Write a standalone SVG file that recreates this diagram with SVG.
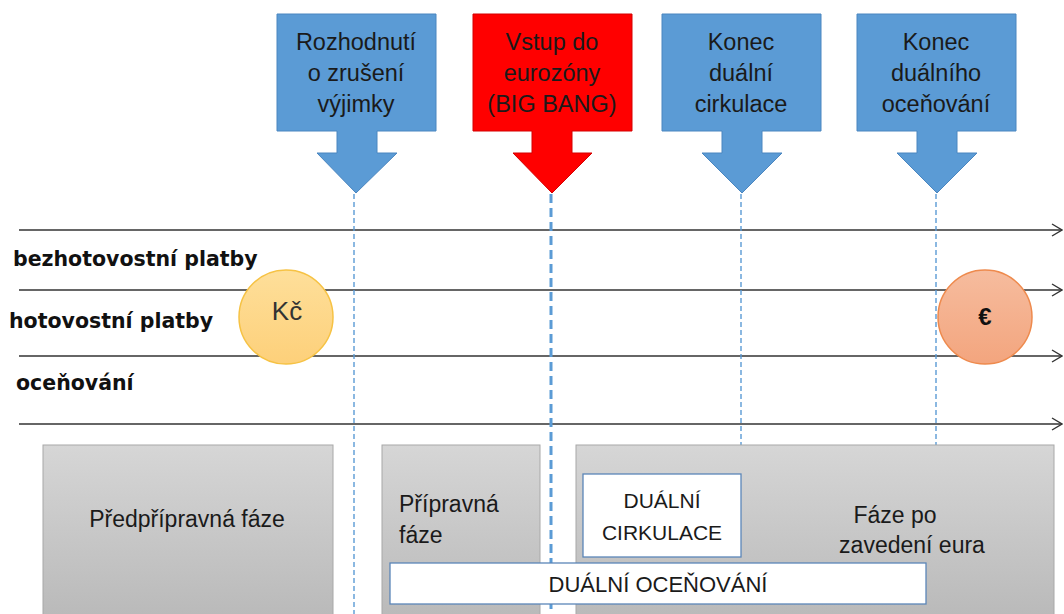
<svg xmlns="http://www.w3.org/2000/svg" width="1064" height="614" viewBox="0 0 1064 614">
<defs>
<linearGradient id="gray" x1="0" y1="0" x2="0" y2="1">
<stop offset="0" stop-color="#d6d6d6"/>
<stop offset="1" stop-color="#b9b9b9"/>
</linearGradient>
<linearGradient id="kc" x1="0" y1="0" x2="0" y2="1">
<stop offset="0" stop-color="#fedf9a"/>
<stop offset="1" stop-color="#fdd07a"/>
</linearGradient>
<linearGradient id="eu" x1="0" y1="0" x2="0" y2="1">
<stop offset="0" stop-color="#f6bc9e"/>
<stop offset="1" stop-color="#f3a57e"/>
</linearGradient>
<marker id="open" viewBox="0 0 12 14" refX="11" refY="7" markerWidth="12" markerHeight="14" markerUnits="userSpaceOnUse" orient="auto">
<path d="M1 1 L11 7 L1 13" fill="none" stroke="#333" stroke-width="1.4"/>
</marker>
<style>
text{font-family:"Liberation Sans",Arial,sans-serif;fill:#1a1a1a}
.call{font-size:23.5px;text-anchor:middle}
.lbl{font-family:"DejaVu Sans",Verdana,sans-serif;font-size:20.5px;font-weight:bold;fill:#111}
.ph{font-size:23px}
.ph21{font-size:21px;text-anchor:middle}
.blue{fill:#5b9bd5;stroke:#4a86c0;stroke-width:1}
.red{fill:#ff0000;stroke:#d40000;stroke-width:1}
.grayb{fill:url(#gray);stroke:#a8a8a8;stroke-width:1}
.wbox{fill:#fff;stroke:#5b86b8;stroke-width:1.3}
.hl{stroke:#333;stroke-width:1.4;fill:none;marker-end:url(#open)}
.dt{stroke:#5b9bd5;stroke-width:1.4;stroke-dasharray:5 3;fill:none}
.dT{stroke:#5b9bd5;stroke-width:3;stroke-dasharray:9 5;fill:none}
</style>
</defs>

<g id="connectors">
<line class="hl" x1="19" y1="230" x2="1062" y2="230"/>
<line class="hl" x1="19" y1="290" x2="1062" y2="290"/>
<line class="hl" x1="19" y1="356" x2="1062" y2="356"/>
<line class="hl" x1="19" y1="424" x2="1062" y2="424"/>
<line class="dt" x1="354" y1="194" x2="354" y2="614"/>
<line class="dT" x1="551" y1="194" x2="551" y2="614"/>
<line class="dt" x1="741" y1="194" x2="741" y2="445"/>
<line class="dt" x1="936" y1="194" x2="936" y2="445"/>
</g>

<g id="labels">
<text class="lbl" x="13" y="266">bezhotovostní platby</text>
<text class="lbl" x="9" y="328">hotovostní platby</text>
<text class="lbl" x="16" y="390">oceňování</text>
</g>

<g id="callout-rozhodnuti">
<path class="blue" d="M277 14 H436 V131 H377 V153 H397 L356 193 L317 153 H337 V131 H277 Z"/>
<text class="call" x="356" y="50">Rozhodnutí</text>
<text class="call" x="356" y="81">o zrušení</text>
<text class="call" x="356" y="112">výjimky</text>
</g>

<g id="callout-vstup">
<path class="red" d="M473 14 H632 V131 H572 V153 H592 L552 193 L513 153 H532 V131 H473 Z"/>
<text class="call" x="552" y="50">Vstup do</text>
<text class="call" x="552" y="81">eurozóny</text>
<text class="call" x="552" y="112">(BIG BANG)</text>
</g>

<g id="callout-konec-cirkulace">
<path class="blue" d="M662 14 H821 V131 H762 V153 H782 L742 193 L702 153 H722 V131 H662 Z"/>
<text class="call" x="741" y="50">Konec</text>
<text class="call" x="741" y="81">duální</text>
<text class="call" x="741" y="112">cirkulace</text>
</g>

<g id="callout-konec-oceneni">
<path class="blue" d="M857 14 H1016 V131 H957 V153 H977 L937 193 L897 153 H917 V131 H857 Z"/>
<text class="call" x="936" y="50">Konec</text>
<text class="call" x="936" y="81">duálního</text>
<text class="call" x="936" y="112">oceňování</text>
</g>

<g id="coin-kc">
<circle cx="286" cy="317" r="47" fill="url(#kc)" stroke="#f6c244" stroke-width="1.5"/>
<text x="287" y="320" font-size="26" text-anchor="middle" style="fill:#333">Kč</text>
</g>

<g id="coin-eur">
<circle cx="985" cy="317" r="47" fill="url(#eu)" stroke="#ee8a4d" stroke-width="1.5"/>
<text x="985" y="325" font-size="24" font-weight="bold" text-anchor="middle" style="fill:#111">€</text>
</g>

<g id="phase-predpripravna">
<rect class="grayb" x="43" y="445" width="290" height="175"/>
<text class="ph" x="187" y="527" text-anchor="middle">Předpřípravná fáze</text>
</g>

<g id="phase-pripravna">
<rect class="grayb" x="382" y="445" width="158" height="175"/>
<text class="ph" x="399" y="512">Přípravná</text>
<text class="ph" x="399" y="543">fáze</text>
</g>

<g id="phase-po-zavedeni">
<rect class="grayb" x="576" y="445" width="478" height="175"/>
<text class="ph" x="895" y="523" text-anchor="middle">Fáze po</text>
<text class="ph" x="912" y="553" text-anchor="middle">zavedení eura</text>
</g>

<g id="dualni-cirkulace">
<rect class="wbox" x="583" y="474" width="158" height="83"/>
<text class="ph21" x="662" y="508">DUÁLNÍ</text>
<text class="ph21" x="662" y="540">CIRKULACE</text>
</g>

<g id="dualni-oceneni">
<rect class="wbox" x="390" y="563" width="536" height="41"/>
<text class="ph21" x="658" y="592" style="font-size:22px">DUÁLNÍ OCEŇOVÁNÍ</text>
</g>
</svg>
